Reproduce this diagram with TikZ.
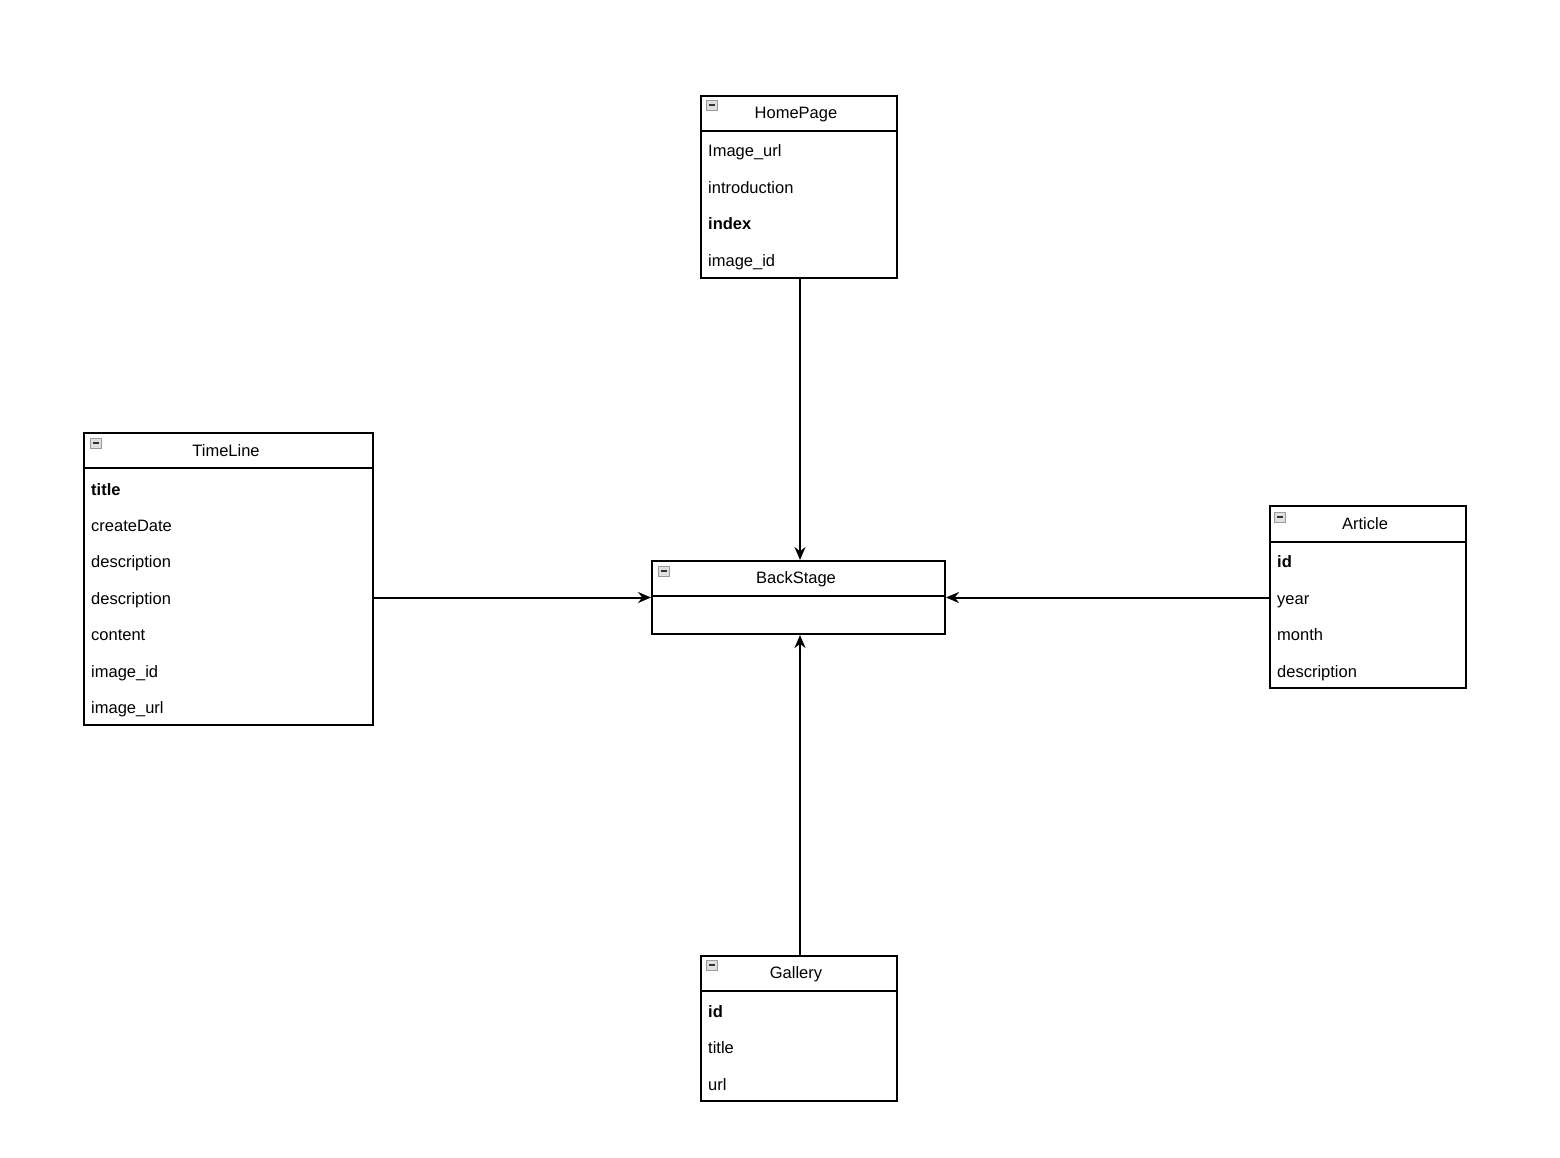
\documentclass[tikz,border=0pt]{standalone}
\usepackage{fontspec}
\setmainfont{Liberation Sans}
\usetikzlibrary{arrows.meta,calc}
\begin{document}
\begin{tikzpicture}[x=1pt,y=-1pt,
  box/.style={draw, line width=2pt, anchor=north west, inner sep=0pt, fill=white},
  sep/.style={line width=2pt},
  ttl/.style={font=\fontsize{16.5}{19}\selectfont, inner sep=0pt, text height=11.5pt, text depth=3.5pt, yshift=-1.5pt},
  row/.style={anchor=west, font=\fontsize{16.5}{19}\selectfont, inner sep=0pt, text height=11.5pt, text depth=3.5pt, yshift=-2pt},
  brow/.style={row, font=\fontsize{16.5}{19}\selectfont\bfseries},
  icon/.style={draw=gray!80, fill=gray!25, minimum width=11pt, minimum height=10pt, inner sep=0pt, line width=0.8pt,
    path picture={\draw[gray!40!black, line width=1.2pt] ([xshift=2.5pt]path picture bounding box.west) -- ([xshift=-2.5pt]path picture bounding box.east);}},
  arr/.style={line width=2pt, -{Stealth[length=13pt,width=11pt]}}
]
\useasboundingbox (0,0) rectangle (1560,1158);
\fill[white] (0,0) rectangle (1560,1158);

% HomePage
\node[box, minimum width=196pt, minimum height=182pt] (hp) at (700,95) {};
\draw[sep] (700,131) -- (896,131);
\node[icon] (hpi) at (712,105) {};
\node[ttl] (hpt) at (796,113) {HomePage};
\node[row] (hp1) at (708,151) {Image\_url};
\node[row] (hp2) at (708,188) {introduction};
\node[brow] (hp3) at (708,224) {index};
\node[row] (hp4) at (708,260) {image\_id};

% TimeLine
\node[box, minimum width=289pt, minimum height=292pt] (tl) at (83,432) {};
\draw[sep] (83,468) -- (372,468);
\node[icon] (tli) at (96,443) {};
\node[ttl] (tlt) at (226,451) {TimeLine};
\node[brow] (tl1) at (91,489) {title};
\node[row] (tl2) at (91,525) {createDate};
\node[row] (tl3) at (91,561) {description};
\node[row] (tl4) at (91,598) {description};
\node[row] (tl5) at (91,634) {content};
\node[row] (tl6) at (91,671) {image\_id};
\node[row] (tl7) at (91,707) {image\_url};

% BackStage
\node[box, minimum width=293pt, minimum height=73pt] (bs) at (651,560) {};
\draw[sep] (651,596) -- (944,596);
\node[icon] (bsi) at (664,571) {};
\node[ttl] (bst) at (796,578) {BackStage};

% Article
\node[box, minimum width=196pt, minimum height=182pt] (ar) at (1269,505) {};
\draw[sep] (1269,542) -- (1465,542);
\node[icon] (ari) at (1280,517) {};
\node[ttl] (art) at (1365,524) {Article};
\node[brow] (ar1) at (1277,561) {id};
\node[row] (ar2) at (1277,598) {year};
\node[row] (ar3) at (1277,634) {month};
\node[row] (ar4) at (1277,671) {description};

% Gallery
\node[box, minimum width=196pt, minimum height=145pt] (ga) at (700,955) {};
\draw[sep] (700,991) -- (896,991);
\node[icon] (gai) at (712,965) {};
\node[ttl] (gat) at (796,973) {Gallery};
\node[brow] (ga1) at (708,1011) {id};
\node[row] (ga2) at (708,1047) {title};
\node[row] (ga3) at (708,1084) {url};

% connectors
\coordinate (bsn) at ($(bs.north)+(1.5,0)$);
\coordinate (bss) at ($(bs.south)+(1.5,0)$);
\draw[arr] (hp.south -| bsn) -- (bsn);
\draw[arr] (ga.north -| bss) -- (bss);
\draw[arr] (tl.east |- bs.west) -- (bs.west);
\draw[arr] (ar.west |- bs.east) -- (bs.east);
\end{tikzpicture}
\end{document}
